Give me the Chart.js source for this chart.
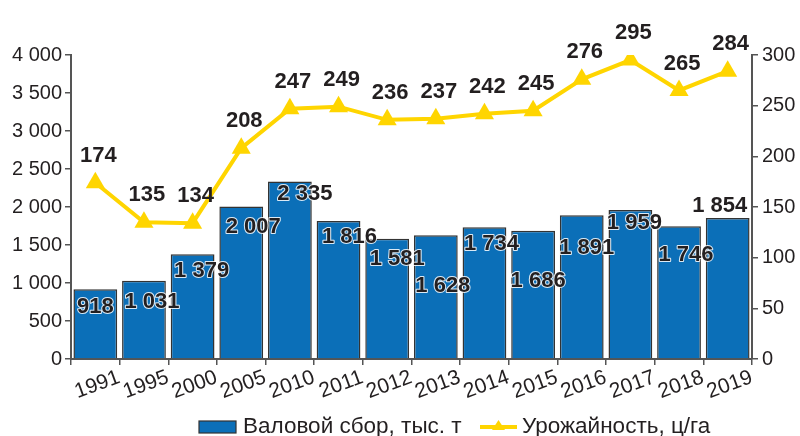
<!DOCTYPE html>
<html>
<head>
<meta charset="utf-8">
<script src="https://cdn.jsdelivr.net/npm/chart.js@4.4.1/dist/chart.umd.min.js"></script>
<style>
  html, body { margin: 0; padding: 0; background: #fff; }
  #wrap { width: 800px; height: 436px; position: relative; }
</style>
</head>
<body>
<div id="wrap"><canvas id="chart" width="800" height="436"></canvas></div>
<script>
// данные
const years = ['1991', '1995', '2000', '2005', '2010', '2011', '2012', '2013', '2014', '2015', '2016', '2017', '2018', '2019'];
const harvest = [918, 1031, 1379, 2007, 2335, 1816, 1581, 1628, 1734, 1686, 1891, 1959, 1746, 1854];
const yieldVals = [174, 135, 134, 208, 247, 249, 236, 237, 242, 245, 276, 295, 265, 284];
const leftTicks = [0, 500, 1000, 1500, 2000, 2500, 3000, 3500, 4000];
const rightTicks = [0, 50, 100, 150, 200, 250, 300];

// сдвиги подписей столбцов (dx, dy от верха столбца)
const barLabelShift = [
    [0, 18], [8, 21], [9, 17], [12, 20], [15, 12], [11, 16], [10, 20],
    [7, 51], [7, 17], [5, 50], [5, 33], [4, 13], [7, 29], [-8, -12]
];

const BLUE = '#0b6fb8';
const YELLOW = '#ffd500';
const DARK = '#231f20';
const AXIS = '#555';
const FONT = '"Liberation Sans", Arial, sans-serif';

const fmt = v => String(v).replace(/\B(?=(\d{3})+(?!\d))/g, ' ');

// подписи значений
const valueLabels = {
    id: 'valueLabels',
    afterDatasetsDraw(chart) {
        const ctx = chart.ctx;
        ctx.save();
        ctx.font = 'bold 22px ' + FONT;
        ctx.textAlign = 'center';
        ctx.textBaseline = 'middle';
        ctx.lineJoin = 'round';

        chart.getDatasetMeta(0).data.forEach((bar, i) => {
            const [dx, dy] = barLabelShift[i];
            const x = bar.x + dx, y = bar.y + dy;
            const t = fmt(harvest[i]);
            if (i < harvest.length - 1) {
                ctx.strokeStyle = 'rgba(255,255,255,0.85)';
                ctx.lineWidth = 2;
                ctx.strokeText(t, x, y);
            }
            ctx.fillStyle = DARK;
            ctx.fillText(t, x, y);
        });

        ctx.fillStyle = DARK;
        chart.getDatasetMeta(1).data.forEach((pt, i) => {
            ctx.fillText(String(yieldVals[i]), pt.x + 3, pt.y - 27);
        });
        ctx.restore();
    }
};

// легенда внизу
const bottomLegend = {
    id: 'bottomLegend',
    afterDraw(chart) {
        const ctx = chart.ctx;
        ctx.save();
        const y = 427;
        ctx.fillStyle = BLUE;
        ctx.fillRect(199, y - 6, 37, 12);
        ctx.strokeStyle = '#333';
        ctx.lineWidth = 1.2;
        ctx.strokeRect(199, y - 6, 37, 12);

        ctx.font = '22.5px ' + FONT;
        ctx.textBaseline = 'middle';
        ctx.fillStyle = DARK;
        ctx.fillText('Валовой сбор, тыс. т', 243, y);

        ctx.strokeStyle = YELLOW;
        ctx.lineWidth = 4;
        ctx.beginPath();
        ctx.moveTo(480, y);
        ctx.lineTo(517, y);
        ctx.stroke();
        ctx.fillStyle = YELLOW;
        ctx.beginPath();
        ctx.moveTo(498.5, y - 7);
        ctx.lineTo(505, y + 3);
        ctx.lineTo(492, y + 3);
        ctx.closePath();
        ctx.fill();

        ctx.fillStyle = DARK;
        ctx.fillText('Урожайность, ц/га', 522, y);
        ctx.restore();
    }
};

new Chart(document.getElementById('chart'), {
    data: {
        labels: years,
        datasets: [{
            type: 'bar',
            label: 'Валовой сбор, тыс. т',
            data: harvest,
            yAxisID: 'y',
            backgroundColor: BLUE,
            borderColor: '#333',
            borderWidth: 1.5,
            categoryPercentage: 0.9,
            barPercentage: 1,
            order: 2
        }, {
            type: 'line',
            label: 'Урожайность, ц/га',
            data: yieldVals,
            yAxisID: 'y1',
            borderColor: YELLOW,
            backgroundColor: YELLOW,
            borderWidth: 4,
            pointStyle: 'triangle',
            pointRadius: 11,
            pointHoverRadius: 11,
            pointBorderWidth: 0,
            tension: 0,
            order: 1
        }]
    },
    options: {
        responsive: false,
        animation: false,
        events: [],
        layout: { padding: { top: 55, bottom: 34, left: 0, right: 0 } },
        plugins: {
            legend: { display: false },
            tooltip: { enabled: false }
        },
        scales: {
            x: {
                offset: true,
                grid: { offset: true, drawOnChartArea: false, drawTicks: true, tickLength: 6, color: AXIS, lineWidth: 1.5 },
                border: { color: AXIS, width: 2 },
                ticks: {
                    color: DARK,
                    font: { family: FONT, size: 21 },
                    minRotation: 20,
                    maxRotation: 20,
                    labelOffset: 24,
                    padding: 0,
                    autoSkip: false
                },
                afterFit(scale) { scale.height = 43; }
            },
            y: {
                position: 'left',
                min: 0,
                max: 4000,
                afterBuildTicks(scale) { scale.ticks = leftTicks.map(v => ({ value: v })); },
                grid: { drawOnChartArea: false, drawTicks: true, tickLength: 6, color: AXIS, lineWidth: 1.5 },
                border: { color: AXIS, width: 2 },
                ticks: {
                    color: DARK,
                    font: { family: FONT, size: 20 },
                    padding: 3,
                    callback: v => fmt(v)
                },
                afterFit(scale) { scale.width = 71; }
            },
            y1: {
                position: 'right',
                min: 0,
                max: 300,
                afterBuildTicks(scale) { scale.ticks = rightTicks.map(v => ({ value: v })); },
                grid: { drawOnChartArea: false, drawTicks: true, tickLength: 6, color: AXIS, lineWidth: 1.5 },
                border: { color: AXIS, width: 2 },
                ticks: {
                    color: DARK,
                    font: { family: FONT, size: 20 },
                    padding: 4
                },
                afterFit(scale) { scale.width = 48; }
            }
        }
    },
    plugins: [valueLabels, bottomLegend]
});
</script>
</body>
</html>
